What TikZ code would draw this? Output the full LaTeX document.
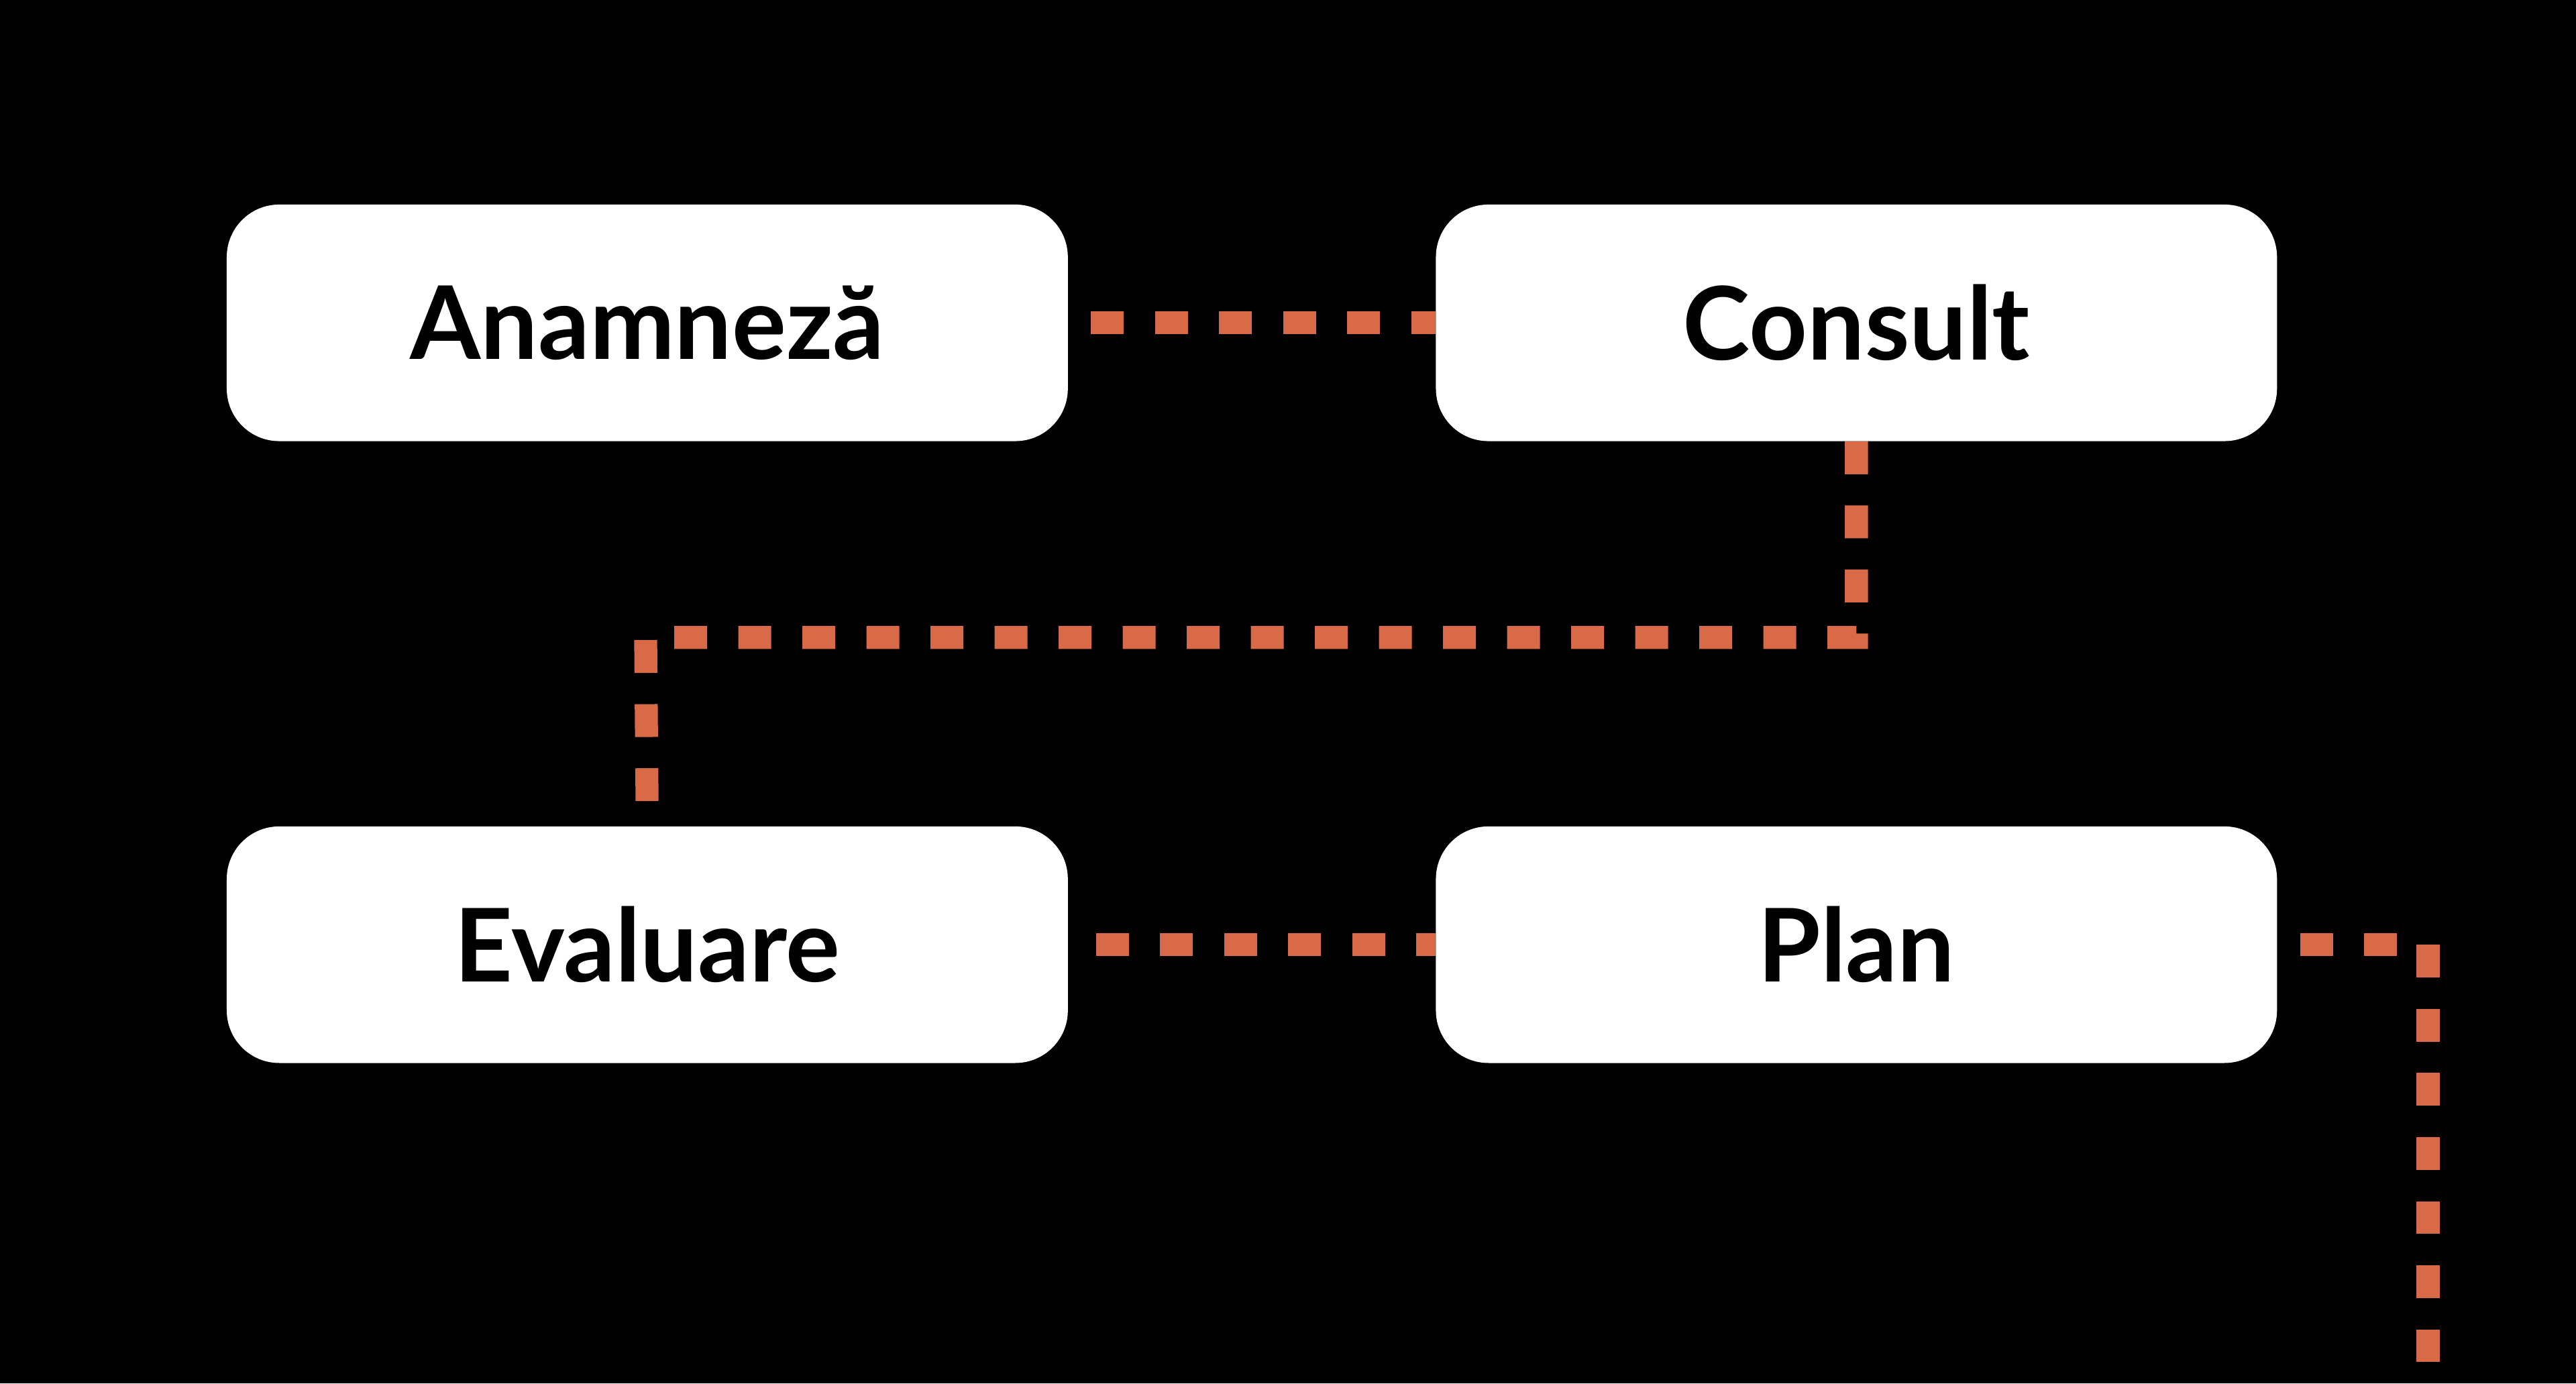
\documentclass[tikz,border=0pt]{standalone}
\usepackage{fontspec}
\setmainfont{Lato}
\usetikzlibrary{backgrounds}
\definecolor{conn}{HTML}{D96A48}
\begin{document}
\begin{tikzpicture}[x=0.05cm,y=-0.05cm,
  box/.style={fill=white,draw=none,rounded corners=1.6cm,minimum width=25.6cm,minimum height=7.2cm,inner sep=0pt,font=\fontsize{88}{100}\selectfont\bfseries},
  link/.style={draw=conn,line width=0.7cm,dash pattern=on 1cm off 0.95cm}]
\useasboundingbox (0,0) rectangle (1568,842);
\node[box] (a) at (394,196.5) {Anamnez\u{a}};
\node[box] (c) at (1130,196.5) {Consult};
\node[box] (e) at (394,575) {Evaluare};
\node[box] (p) at (1130,575) {Plan};
\coordinate (end) at (1478,842);
\begin{scope}[on background layer]
\fill[black] (0,0) rectangle (1568,842);
\draw[link] (a.east) ++(14,0) -- (c.west);
\draw[link] (c.south) |- (393,388) -- (e.north);
\draw[link] (e.east) ++(17,0) -- (p.west);
\draw[link] (p.east) ++(14,0) -| (end);
\end{scope}
\end{tikzpicture}
\end{document}
